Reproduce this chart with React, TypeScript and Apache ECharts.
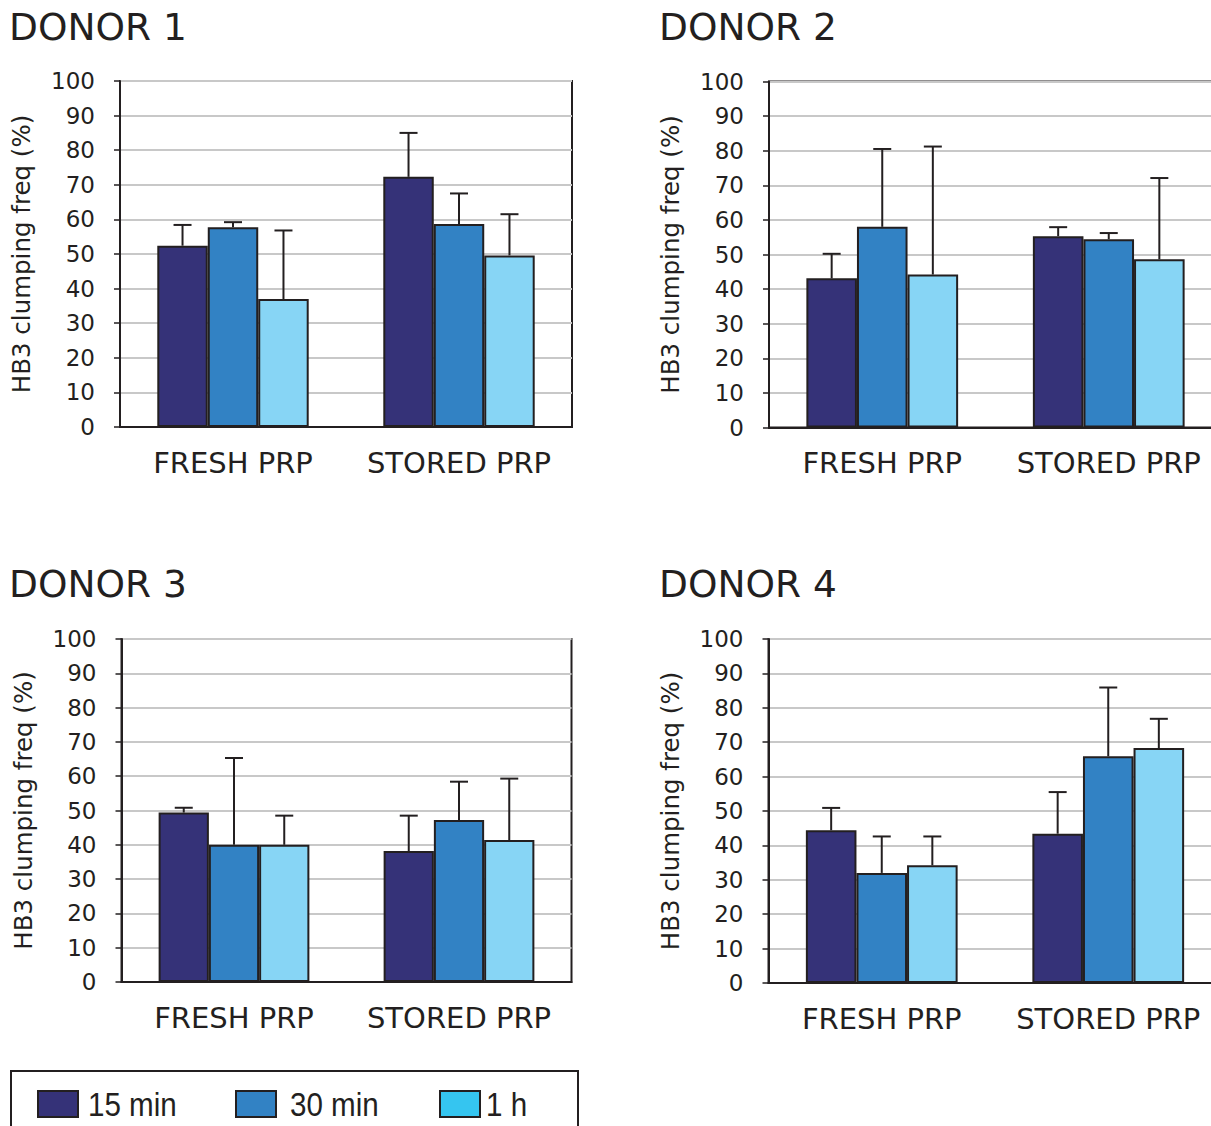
import React, { useEffect, useRef } from "react";
import * as echarts from "echarts";

const categories = ["FRESH PRP", "STORED PRP"];
const seriesNames = ["15 min", "30 min", "1 h"];
const yTicks = [0, 10, 20, 30, 40, 50, 60, 70, 80, 90, 100];
const panelTitles = ["DONOR 1", "DONOR 2", "DONOR 3", "DONOR 4"];

// mean values [FRESH, STORED]
const d1Min15 = [52.4, 72.3];
const d1Min30 = [57.7, 58.7];
const d1H1 = [37.0, 49.6];
const d2Min15 = [43.1, 55.3];
const d2Min30 = [58.0, 54.4];
const d2H1 = [44.2, 48.6];
const d3Min15 = [49.4, 38.2];
const d3Min30 = [40.0, 47.2];
const d3H1 = [40.0, 41.4];
const d4Min15 = [44.4, 43.4];
const d4Min30 = [32.0, 65.9];
const d4H1 = [34.2, 68.3];

// upper error bar lengths [FRESH, STORED]
const d1Err15 = [6.0, 12.7];
const d1Err30 = [1.5, 8.8];
const d1Err1h = [19.8, 11.9];
const d2Err15 = [7.1, 2.6];
const d2Err30 = [22.5, 1.8];
const d2Err1h = [37.0, 23.5];
const d3Err15 = [1.4, 10.3];
const d3Err30 = [25.3, 11.2];
const d3Err1h = [8.5, 17.9];
const d4Err15 = [6.5, 12.1];
const d4Err30 = [10.6, 20.0];
const d4Err1h = [8.4, 8.5];

const means = [
  [d1Min15, d1Min30, d1H1],
  [d2Min15, d2Min30, d2H1],
  [d3Min15, d3Min30, d3H1],
  [d4Min15, d4Min30, d4H1],
];
const errs = [
  [d1Err15, d1Err30, d1Err1h],
  [d2Err15, d2Err30, d2Err1h],
  [d3Err15, d3Err30, d3Err1h],
  [d4Err15, d4Err30, d4Err1h],
];

const barColors = ["#353278", "#3282c4", "#87d5f5"];
const legendColors = ["#353278", "#3282c4", "#35c5f0"];
const ink = "#231f20";
const font = "DejaVu Sans";
const CAT_GAP = 0.33;

const grids = [
  { left: 120, top: 81, width: 452, height: 346 },
  { left: 769, top: 81.5, width: 453, height: 346 },
  { left: 121.5, top: 639, width: 450, height: 343 },
  { left: 768.5, top: 639, width: 453, height: 344 },
];
const titlePos = [
  [9, 27],
  [659, 27],
  [9, 584],
  [659, 584],
];

export default function App() {
  const ref = useRef<HTMLDivElement>(null);
  useEffect(() => {
    if (!ref.current) return;
    const chart = echarts.init(ref.current, undefined, { renderer: "svg" });

    const xAxis = grids.map((_, i) => ({
      type: "category",
      gridIndex: i,
      data: categories,
      axisLine: { show: true, lineStyle: { color: ink, width: 2 } },
      axisTick: { show: false },
      axisLabel: { color: ink, fontSize: 29, fontFamily: font, margin: 21, interval: 0 },
    }));
    const yAxis = grids.map((_, i) => ({
      type: "value",
      gridIndex: i,
      min: yTicks[0],
      max: yTicks[yTicks.length - 1],
      interval: 10,
      name: "HB3 clumping freq (%)",
      nameLocation: "middle",
      nameGap: 86,
      nameTextStyle: { color: ink, fontSize: 24.5, fontFamily: font },
      axisLine: { show: true, lineStyle: { color: ink, width: 2 } },
      axisTick: { show: true, length: 6, lineStyle: { color: ink, width: 1.5 } },
      axisLabel: { color: ink, fontSize: 23, fontFamily: font, margin: 25 },
      splitLine: { show: true, lineStyle: { color: "#c8c8c8", width: 2 } },
    }));

    const series: any[] = [];
    grids.forEach((_, p) => {
      seriesNames.forEach((name, s) => {
        series.push({
          type: "bar",
          name,
          xAxisIndex: p,
          yAxisIndex: p,
          data: means[p][s],
          barGap: "0%",
          barCategoryGap: CAT_GAP * 100 + "%",
          itemStyle: { color: barColors[s], borderColor: ink, borderWidth: 2 },
        });
      });
      const errData: number[][] = [];
      categories.forEach((_, c) => {
        seriesNames.forEach((__, s) => {
          errData.push([c, s, means[p][s][c], errs[p][s][c]]);
        });
      });
      series.push({
        type: "custom",
        xAxisIndex: p,
        yAxisIndex: p,
        data: errData,
        encode: { x: 0, y: 2 },
        z: 5,
        renderItem: (params: any, api: any) => {
          const c = api.value(0);
          const s = api.value(1);
          const v = api.value(2);
          const e = api.value(3);
          const p0 = api.coord([c, v]);
          const p1 = api.coord([c, v + e]);
          const bw = (api.size([1, 0])[0] * (1 - CAT_GAP)) / 3;
          const x = p0[0] + (s - 1) * bw;
          return {
            type: "group",
            children: [
              {
                type: "line",
                shape: { x1: x, y1: p0[1], x2: x, y2: p1[1] },
                style: { stroke: ink, lineWidth: 2 },
              },
              {
                type: "line",
                shape: { x1: x - 9, y1: p1[1], x2: x + 9, y2: p1[1] },
                style: { stroke: ink, lineWidth: 2 },
              },
            ],
          };
        },
      });
    });

    const graphics: any[] = panelTitles.map((t, i) => ({
      type: "text",
      x: titlePos[i][0],
      y: titlePos[i][1],
      style: {
        text: t,
        fontSize: 37.5,
        fontFamily: font,
        fill: ink,
        align: "left",
        verticalAlign: "middle",
      },
    }));
    graphics.push({
      type: "rect",
      shape: { x: 11, y: 1071, width: 567, height: 100 },
      style: { fill: "none", stroke: ink, lineWidth: 2 },
    });
    const swatchX = [38, 236, 440];
    const textX = [88, 290, 486];
    seriesNames.forEach((n, i) => {
      graphics.push({
        type: "rect",
        shape: { x: swatchX[i], y: 1091, width: 40, height: 26 },
        style: { fill: legendColors[i], stroke: ink, lineWidth: 2 },
      });
      graphics.push({
        type: "text",
        x: textX[i],
        y: 1104,
        scaleX: 0.87,
        style: {
          text: n,
          fontSize: 34,
          fontFamily: "Liberation Sans, sans-serif",
          fill: ink,
          align: "left",
          verticalAlign: "middle",
        },
      });
    });

    chart.setOption({
      animation: false,
      backgroundColor: "#ffffff",
      grid: grids.map((g) => ({
        ...g,
        show: true,
        borderColor: ink,
        borderWidth: 2,
        backgroundColor: "transparent",
        outerBoundsMode: "none",
        containLabel: false,
      })),
      xAxis,
      yAxis,
      series,
      graphic: graphics,
    });
    return () => chart.dispose();
  }, []);
  return (
    <div
      ref={ref}
      style={{ position: "absolute", left: 0, top: 0, width: 1211, height: 1126, background: "#fff" }}
    />
  );
}
